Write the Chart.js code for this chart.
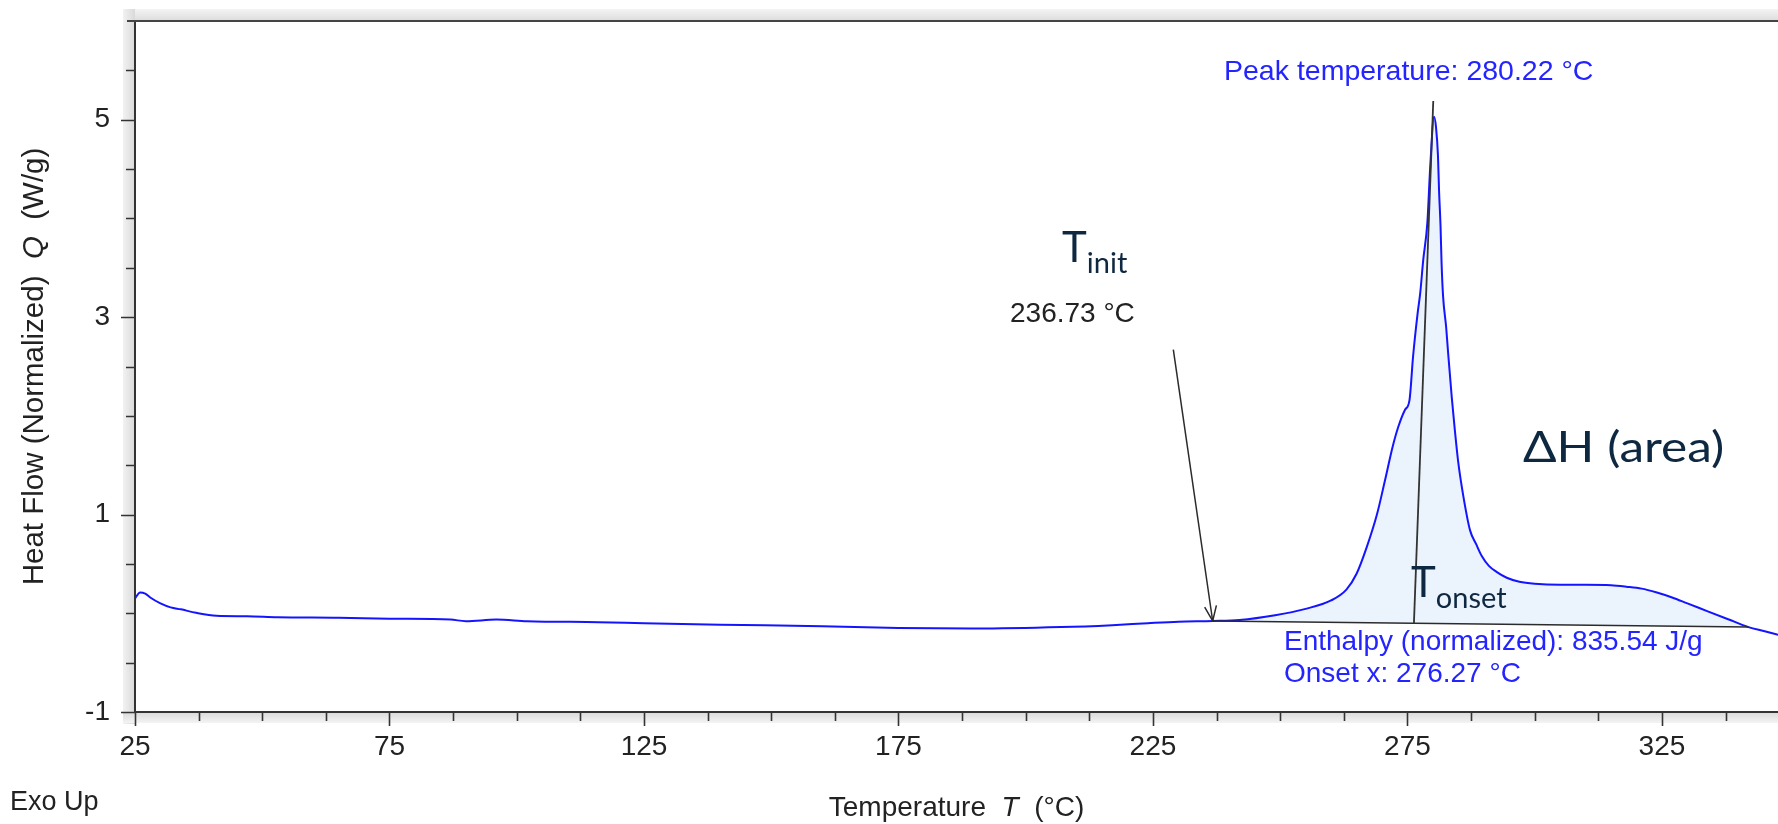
<!DOCTYPE html>
<html>
<head>
<meta charset="utf-8">
<title>DSC heat flow</title>
<script src="https://cdn.jsdelivr.net/npm/chart.js@4.4.1/dist/chart.umd.min.js"></script>
<style>
  html, body { margin: 0; padding: 0; background: #fff; }
</style>
</head>
<body>
<canvas id="dscChart" width="1778" height="824"></canvas>
<script>
// DSC scan, heat flow vs temperature
const temperature = [25, 26, 27, 28, 30, 32, 34, 37, 41, 47, 53, 65, 75, 87, 90, 96, 102, 116, 125, 140,
  160, 175, 190, 207, 217, 224, 230, 236.73, 242, 249, 255, 260, 263, 265, 267, 269, 270.6, 272.1, 273.2, 274.5,
  275.4, 276.1, 277, 277.5, 278.1, 278.9, 279.5, 280.22, 280.6, 281, 281.2, 281.5, 281.7, 282, 282.6, 283,
  283.7, 284.3, 285, 286, 287.3, 288.5, 289.6, 291, 292.5, 294.5, 297, 300, 305, 310, 315, 318, 321, 324,
  327, 330, 334, 338, 342, 345, 348];
const heatFlow = [0.15, 0.21, 0.20, 0.16, 0.10, 0.06, 0.04, 0.005, -0.025, -0.03, -0.04, -0.045, -0.055, -0.064, -0.08, -0.064, -0.08, -0.09, -0.10, -0.115,
  -0.132, -0.15, -0.155, -0.14, -0.12, -0.10, -0.085, -0.078, -0.068, -0.02, 0.045, 0.13, 0.24, 0.40, 0.67, 1.0, 1.35, 1.69, 1.89, 2.06,
  2.16, 2.60, 3.04, 3.24, 3.58, 3.95, 4.55, 5.03, 4.93, 4.63, 4.29, 3.92, 3.55, 3.21, 2.90, 2.63,
  2.19, 1.86, 1.52, 1.18, 0.84, 0.70, 0.58, 0.48, 0.42, 0.36, 0.32, 0.30, 0.29, 0.29, 0.285, 0.27, 0.25, 0.21,
  0.16, 0.10, 0.02, -0.06, -0.14, -0.18, -0.22];

// axis labels
const xLabels = [25, 75, 125, 175, 225, 275, 325];
const yLabels = [-1, 1, 3, 5];

// analysis results
const tInit = 236.73;       // initial temperature (start of integration)
const tEnd = 342;           // end of integration
const tOnset = 276.27;
const tPeak = 280.22;
const enthalpy = 835.54;
const baseStart = -0.078;   // integration baseline ends
const baseEnd = -0.14;
const tangentTop = [280.07, 5.19];
const arrowFrom = [229.0, 2.67];

const onsetQ = baseStart + (tOnset - tInit) / (tEnd - tInit) * (baseEnd - baseStart);

const curve = temperature.map((t, i) => ({ x: t, y: heatFlow[i] }));
const areaPts = curve.filter(p => p.x >= tInit && p.x <= tEnd);

const ARIAL = '"Liberation Sans", Arial, sans-serif';
const CALIBRI = 'Lato, "Open Sans", sans-serif';

function drawRuns(ctx, parts, x, y, align) {
  let w = 0;
  parts.forEach(p => { ctx.font = p[1]; w += ctx.measureText(p[0]).width; });
  let cx = align === 'center' ? x - w / 2 : x;
  ctx.textAlign = 'left';
  parts.forEach(p => {
    ctx.font = p[1];
    ctx.fillText(p[0], cx, y + (p[2] || 0));
    cx += ctx.measureText(p[0]).width;
  });
}

const dscDecor = {
  id: 'dscDecor',
  beforeDraw(chart) {
    const ctx = chart.ctx, a = chart.chartArea;
    ctx.save();
    // shaded frame around the plot
    let g = ctx.createLinearGradient(0, a.top - 12, 0, a.top);
    g.addColorStop(0, '#f4f4f4'); g.addColorStop(1, '#dcdcdc');
    ctx.fillStyle = g;
    ctx.fillRect(a.left - 12, a.top - 12, chart.width - a.left + 12, 12);
    g = ctx.createLinearGradient(a.left - 12, 0, a.left, 0);
    g.addColorStop(0, '#f2f2f2'); g.addColorStop(1, '#d9d9d9');
    ctx.fillStyle = g;
    ctx.fillRect(a.left - 12, a.top - 12, 12, a.bottom - a.top + 24);
    g = ctx.createLinearGradient(0, a.bottom, 0, a.bottom + 11);
    g.addColorStop(0, '#d9d9d9'); g.addColorStop(1, '#f4f4f4');
    ctx.fillStyle = g;
    ctx.fillRect(a.left - 12, a.bottom, chart.width - a.left + 12, 11);
    ctx.fillStyle = '#fff';
    ctx.fillRect(a.left, a.top, a.right - a.left, a.bottom - a.top);
    ctx.restore();
  },
  afterDraw(chart) {
    const ctx = chart.ctx, a = chart.chartArea;
    const xs = chart.scales.x, ys = chart.scales.y;
    ctx.save();

    // top frame line
    ctx.strokeStyle = '#444';
    ctx.lineWidth = 2;
    ctx.beginPath();
    ctx.moveTo(a.left - 8, a.top);
    ctx.lineTo(chart.width, a.top);
    ctx.stroke();

    // tick marks, long on labelled values
    ctx.strokeStyle = '#333';
    ctx.lineWidth = 1.6;
    ctx.beginPath();
    xs.ticks.forEach(t => {
      const px = Math.round(xs.getPixelForValue(t.value)) + 0.5;
      const len = xLabels.includes(t.value) ? 14 : 9;
      ctx.moveTo(px, a.bottom);
      ctx.lineTo(px, a.bottom + len);
    });
    ys.ticks.forEach(t => {
      if (t.value >= 6) return;
      const py = Math.round(ys.getPixelForValue(t.value)) + 0.5;
      const len = yLabels.includes(t.value) ? 14 : 9;
      ctx.moveTo(a.left, py);
      ctx.lineTo(a.left - len, py);
    });
    ctx.stroke();

    // arrow head on the T_init pointer
    const tipX = xs.getPixelForValue(tInit), tipY = ys.getPixelForValue(baseStart);
    const fx = xs.getPixelForValue(arrowFrom[0]), fy = ys.getPixelForValue(arrowFrom[1]);
    const ang = Math.atan2(tipY - fy, tipX - fx);
    ctx.strokeStyle = '#2b2b2b';
    ctx.lineWidth = 1.5;
    ctx.beginPath();
    [-0.38, 0.38].forEach(d => {
      ctx.moveTo(tipX, tipY);
      ctx.lineTo(tipX - 16 * Math.cos(ang + d), tipY - 16 * Math.sin(ang + d));
    });
    ctx.stroke();

    ctx.textBaseline = 'alphabetic';

    // instrument annotations
    ctx.fillStyle = '#2424ff';
    drawRuns(ctx, [['Peak temperature: ' + tPeak.toFixed(2) + ' °C', '28.5px ' + ARIAL]], 1224, 80);
    drawRuns(ctx, [['Enthalpy (normalized): ' + enthalpy.toFixed(2) + ' J/g', '28px ' + ARIAL]], 1284, 650);
    drawRuns(ctx, [['Onset x: ' + tOnset.toFixed(2) + ' °C', '28px ' + ARIAL]], 1284, 682);

    ctx.fillStyle = '#222';
    drawRuns(ctx, [[tInit.toFixed(2) + ' °C', '28px ' + ARIAL]], 1010, 322);

    // callouts
    ctx.fillStyle = '#0e2841';
    drawRuns(ctx, [['T', '42px ' + CALIBRI], ['init', '29px ' + CALIBRI, 11]], 1062, 262);
    drawRuns(ctx, [['T', '42px ' + CALIBRI], ['onset', '29px ' + CALIBRI, 11]], 1411, 597);
    ctx.save();
    ctx.translate(1523, 462);
    ctx.scale(1.18, 1);
    drawRuns(ctx, [['\u0394H (area)', '42px ' + CALIBRI]], 0, 0);
    ctx.restore();

    // axis titles
    ctx.fillStyle = '#222';
    const nf = '28px ' + ARIAL, itf = 'italic 28px ' + ARIAL;
    drawRuns(ctx, [['Temperature  ', nf], ['T', itf], ['  (°C)', nf]], (a.left + a.right) / 2, 816, 'center');
    ctx.save();
    ctx.translate(43, (a.top + a.bottom) / 2);
    ctx.rotate(-Math.PI / 2);
    const yf = '29.5px ' + ARIAL, yif = 'italic 29.5px ' + ARIAL;
    drawRuns(ctx, [['Heat Flow (Normalized)  ', yf], ['Q', yif], ['  (W/g)', yf]], 0, 0, 'center');
    ctx.restore();
    drawRuns(ctx, [['Exo Up', '27px ' + ARIAL]], 10, 810);

    ctx.restore();
  }
};

const ctx = document.getElementById('dscChart').getContext('2d');
const dscChart = new Chart(ctx, {
  type: 'line',
  data: {
    datasets: [
      {
        label: 'area',
        data: areaPts,
        borderWidth: 0,
        backgroundColor: '#ebf3fc',
        fill: 1,
        pointRadius: 0,
        cubicInterpolationMode: 'monotone',
        order: 5
      },
      {
        label: 'baseline',
        data: [{ x: tInit, y: baseStart }, { x: tEnd, y: baseEnd }],
        borderColor: '#2b2b2b',
        borderWidth: 1.5,
        pointRadius: 0,
        fill: false,
        order: 1
      },
      {
        label: 'Heat flow',
        data: curve,
        borderColor: '#1414ff',
        borderWidth: 2,
        pointRadius: 0,
        fill: false,
        cubicInterpolationMode: 'monotone',
        order: 2
      },
      {
        label: 'onset tangent',
        data: [{ x: tOnset, y: onsetQ }, { x: tangentTop[0], y: tangentTop[1] }],
        borderColor: '#333',
        borderWidth: 1.8,
        pointRadius: 0,
        fill: false,
        order: 0
      },
      {
        label: 'init pointer',
        data: [{ x: arrowFrom[0], y: arrowFrom[1] }, { x: tInit, y: baseStart }],
        borderColor: '#2b2b2b',
        borderWidth: 1.5,
        pointRadius: 0,
        fill: false,
        order: 0
      }
    ]
  },
  options: {
    responsive: false,
    animation: false,
    events: [],
    layout: { padding: { top: 21, right: 0, left: 0, bottom: 0 } },
    plugins: {
      legend: { display: false },
      tooltip: { enabled: false }
    },
    scales: {
      x: {
        type: 'linear',
        min: 25,
        max: 347.8,
        afterFit: s => { s.height = 112; s.paddingLeft = 0; s.paddingRight = 0; },
        grid: { display: false, drawTicks: false },
        border: { display: true, color: '#333', width: 2 },
        ticks: {
          stepSize: 12.5,
          includeBounds: false,
          autoSkip: false,
          maxRotation: 0,
          padding: 18,
          color: '#222',
          font: { family: ARIAL, size: 28 },
          callback: v => xLabels.includes(v) ? String(v) : ''
        }
      },
      y: {
        type: 'linear',
        min: -1,
        max: 6,
        afterFit: s => { s.width = 135; s.paddingTop = 0; s.paddingBottom = 0; },
        grid: { display: false, drawTicks: false },
        border: { display: true, color: '#333', width: 2 },
        ticks: {
          stepSize: 0.5,
          autoSkip: false,
          padding: 25,
          color: '#222',
          font: { family: ARIAL, size: 28 },
          callback: v => yLabels.includes(v) ? String(v) : ''
        }
      }
    }
  },
  plugins: [dscDecor]
});
</script>
</body>
</html>
